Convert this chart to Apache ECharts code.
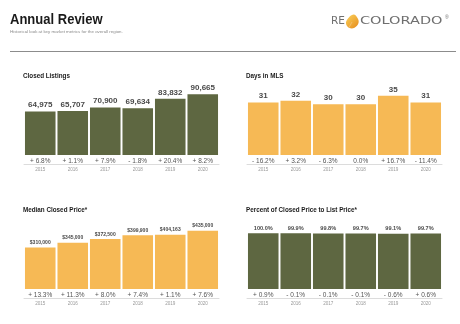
<!DOCTYPE html>
<html><head><meta charset="utf-8">
<script src="https://cdn.jsdelivr.net/npm/echarts@6/dist/echarts.min.js"></script>
<style>html,body{margin:0;padding:0;background:#fff}#c{width:460px;height:324px}</style>
</head><body><div id="c"></div>
<script>
const years = ['2015', '2016', '2017', '2018', '2019', '2020'];
const closedListings = [64975, 65707, 70900, 69634, 83832, 90665];
const closedListingsChange = [6.8, 1.1, 7.9, -1.8, 20.4, 8.2];
const daysInMls = [31, 32, 30, 30, 35, 31];
const daysInMlsChange = [-16.2, 3.2, -6.3, 0.0, 16.7, -11.4];
const medianPrice = [310000, 345000, 372500, 399900, 404163, 435000];
const medianPriceChange = [13.3, 11.3, 8.0, 7.4, 1.1, 7.6];
const pctOfList = [100.0, 99.9, 99.8, 99.7, 99.1, 99.7];
const pctOfListChange = [0.9, -0.1, -0.1, -0.1, -0.6, 0.6];
const panelTitles = ['Closed Listings', 'Days in MLS', 'Median Closed Price*', 'Percent of Closed Price to List Price*'];

const OLIVE = '#5e6741', GOLD = '#f6b955';
const SANS = '"Liberation Sans", Arial, Helvetica, sans-serif';

function fmtChange(v) {
  if (v > 0) return '+ ' + v.toFixed(1) + '%';
  if (v < 0) return '- ' + Math.abs(v).toFixed(1) + '%';
  return v.toFixed(1) + '%';
}
const comma = v => v.toLocaleString('en-US');

const panels = [
  {values: closedListings, change: closedListingsChange, color: OLIVE, max: 104500, fmt: v => comma(v), fs: 8, grid: {left: 24, top: 85}},
  {values: daysInMls, change: daysInMlsChange, color: GOLD, max: 41.3, fmt: v => String(v), fs: 8, grid: {left: 247, top: 85}},
  {values: medianPrice, change: medianPriceChange, color: GOLD, max: 522000, fmt: v => '$' + comma(v), fs: 5, grid: {left: 24, top: 219}},
  {values: pctOfList, change: pctOfListChange, color: OLIVE, max: 125.7, fmt: v => v.toFixed(1) + '%', fs: 5.6, grid: {left: 247, top: 219}}
];

const grid = [], xAxis = [], yAxis = [], series = [], graphic = [];
panels.forEach((p, i) => {
  grid.push({left: p.grid.left, top: p.grid.top, width: 195, height: 70});
  xAxis.push({
    type: 'category', gridIndex: i, data: years,
    axisLine: {show: false}, axisTick: {show: false},
    axisLabel: {margin: 2.5, fontSize: 6.5, color: '#555', fontFamily: SANS,
      formatter: (val, idx) => fmtChange(p.change[idx])}
  });
  xAxis.push({
    type: 'category', gridIndex: i, data: years, position: 'bottom', offset: 9.5,
    axisLine: {show: true, lineStyle: {color: '#dcdcdc', width: 1}}, axisTick: {show: false},
    axisLabel: {margin: 2.8, fontSize: 4.6, color: '#9a9a9a', fontFamily: SANS}
  });
  yAxis.push({type: 'value', gridIndex: i, min: 0, max: p.max, show: false, splitLine: {show: false}});
  series.push({
    type: 'bar', xAxisIndex: 2 * i, yAxisIndex: i, data: p.values,
    barCategoryGap: '6%', itemStyle: {color: p.color},
    label: {show: true, position: 'top', distance: 2.3, fontSize: p.fs, fontWeight: i < 2 ? 600 : 'bold',
      color: '#4a4a4a', fontFamily: SANS, formatter: q => p.fmt(q.value)},
    silent: true
  });
  graphic.push({type: 'text', x: p.grid.left - 1, y: p.grid.top - 9.5, scaleX: 0.83,
    style: {text: panelTitles[i], font: 'bold 7.6px ' + SANS, fill: '#1a1a1a', verticalAlign: 'middle'}});
});

graphic.push(
  {type: 'text', x: 10, y: 20, scaleX: 0.84, style: {text: 'Annual Review', font: 'bold 15.5px ' + SANS, fill: '#1a1a1a', verticalAlign: 'middle'}},
  {type: 'text', x: 10, y: 32, style: {text: 'Historical look at key market metrics for the overall region.', font: '4.4px ' + SANS, fill: '#8a8a8a', verticalAlign: 'middle'}},
  {type: 'line', shape: {x1: 10, y1: 51.5, x2: 456, y2: 51.5}, style: {stroke: '#8c8c8c', lineWidth: 1.2}},
  {type: 'text', left: 331, top: 16, style: {text: 'RE', font: '10.5px "DejaVu Sans", sans-serif', fill: '#6f6f6f'}},
  {type: 'text', x: 360, y: 16, scaleX: 1.38, style: {text: 'COLORADO', font: '10.5px "DejaVu Sans", sans-serif', fill: '#6f6f6f'}},
  {type: 'text', left: 445, top: 15, style: {text: '®', font: '5px ' + SANS, fill: '#6f6f6f'}},
  {type: 'polygon', x: 345.5, y: 14.5, shape: {smooth: 0.4, points: [[8, 0], [2.5, 4], [0.5, 9], [4, 13.5], [9, 13.2], [13, 8.5], [12, 3.5]]},
    style: {fill: new echarts.graphic.LinearGradient(0, 0, 1, 1, [{offset: 0, color: '#fbd35c'}, {offset: 1, color: '#e58a1b'}])}},
  {type: 'line', shape: {x1: 352, y1: 22, x2: 349, y2: 27.5}, style: {stroke: '#f3c27a', lineWidth: 0.8}}
);

const chart = echarts.init(document.getElementById('c'), null, {renderer: 'canvas'});
chart.setOption({animation: false, grid, xAxis, yAxis, series, graphic});
</script></body></html>
